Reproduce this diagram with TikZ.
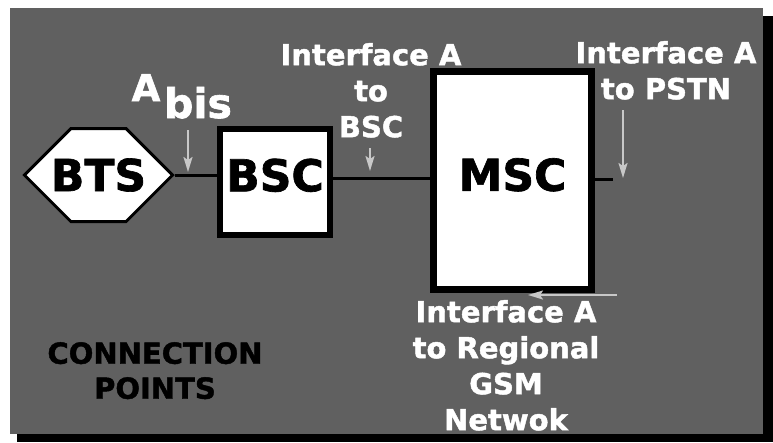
\documentclass[tikz,border=0pt]{standalone}
\usepackage{fontspec}
\setmainfont{DejaVu Sans}[BoldFeatures={FakeBold=1.5}]
\usetikzlibrary{shapes.symbols,arrows.meta}
\definecolor{panel}{RGB}{96,96,96}
\definecolor{pointer}{RGB}{200,200,200}
\begin{document}
\begin{tikzpicture}[x=1pt, y=-1pt,
   box/.style={draw, fill=white, line width=6pt, inner sep=0pt,
     font=\fontsize{44}{44}\selectfont\bfseries},
   lbl/.style={text=white, align=center, inner sep=0pt, anchor=north,
     font=\fontsize{29}{36}\selectfont\bfseries},
   ptr/.style={draw=pointer, line width=2pt,
     -{Stealth[length=15pt,width=9pt,inset=3pt]}}]
   \useasboundingbox (0,0) rectangle (773,442);
   \fill[white] (0,0) rectangle (773,442);
   \fill[black] (17,16) rectangle (773,442);
   \fill[panel] (10,8) rectangle (763,434);
   \node[box, signal, signal to=west and east, signal pointer angle=90,
     line width=3pt, inner xsep=-20pt, minimum height=93pt] (bts) at (98.5,175) {BTS};
   \node[box, minimum width=110pt, minimum height=106pt, text depth=14pt] (bsc) at (275,182) {BSC};
   \node[box, line width=7pt, minimum width=158pt, minimum height=218pt,
     text depth=12pt] (msc) at (512.5,180.5) {MSC};
   \coordinate (wire) at (0,178);
   \coordinate (pstn) at (613,179);
   \draw[line width=3pt] (bts.east) -- (bts.east -| bsc.west);
   \draw[line width=3pt] (bsc.east |- wire) -- (msc.west |- wire);
   \draw[line width=3pt] (msc.east |- pstn) -- (pstn);
   \coordinate (abis) at (188,172);
   \coordinate (aBSC) at (370,171);
   \coordinate (aPSTN) at (623,178);
   \coordinate (aGSM) at (528,295);
   \foreach \c/\dx/\dy in {abis/0/-42, aBSC/0/-23, aPSTN/0/-68, aGSM/89/0}
     \draw[ptr] (\c) ++(\dx,\dy) -- (\c);
   \node[text=white, anchor=base, inner sep=0pt,
     font=\fontsize{37}{37}\selectfont\bfseries] (A) at (146,101) {A};
   \node[text=white, anchor=base, inner sep=0pt,
     font=\fontsize{41}{41}\selectfont\bfseries] (bis) at (198,118) {bis};
   \node[lbl] (ifbsc) at (371,43) {Interface A\\to\\BSC};
   \node[lbl] (ifpstn) at (666,41) {Interface A\\to PSTN};
   \node[lbl] (ifgsm) at (506,300) {Interface A\\to Regional\\GSM\\Netwok};
   \node[lbl, text=black, font=\fontsize{29}{35}\selectfont\bfseries] (points)
     at (155,342) {CONNECTION\\POINTS};
\end{tikzpicture}
\end{document}
